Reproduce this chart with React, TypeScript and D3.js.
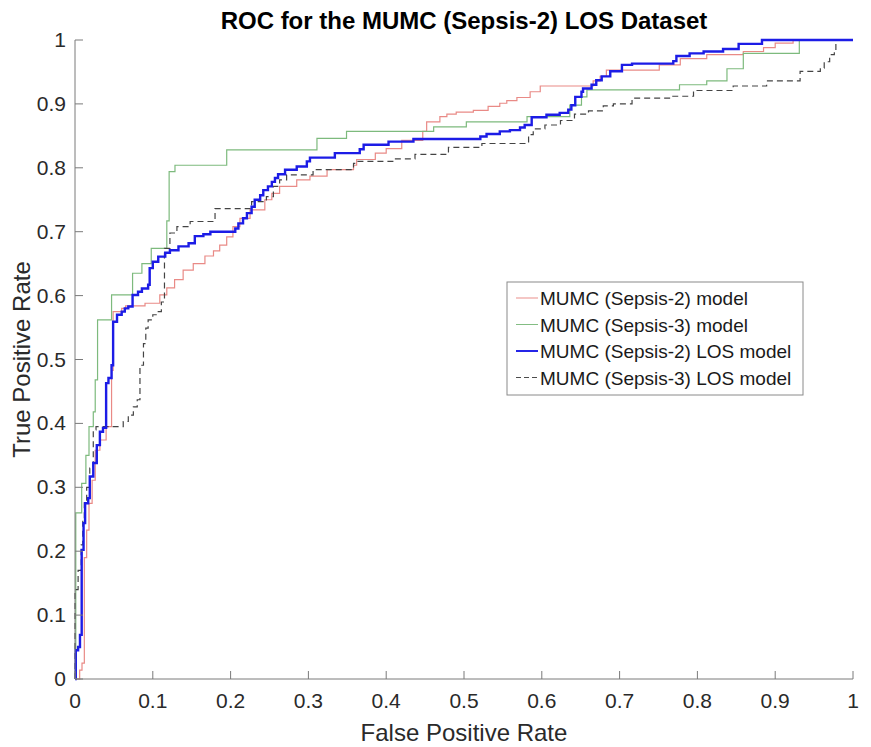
import React, { useEffect, useRef } from "react";
import * as d3 from "d3";

const TITLE = "ROC for the MUMC (Sepsis-2) LOS Dataset";
const X_LABEL = "False Positive Rate";
const Y_LABEL = "True Positive Rate";
const TICKS = [0, 0.1, 0.2, 0.3, 0.4, 0.5, 0.6, 0.7, 0.8, 0.9, 1];
const TICK_LABELS = ["0", "0.1", "0.2", "0.3", "0.4", "0.5", "0.6", "0.7", "0.8", "0.9", "1"];

const SERIES_NAMES = [
  "MUMC (Sepsis-2) model",
  "MUMC (Sepsis-3) model",
  "MUMC (Sepsis-2) LOS model",
  "MUMC (Sepsis-3) LOS model",
];

// MUMC (Sepsis-2) model
const s2Fpr = [0, .006, .009, .012, .015, .018, .022, .026, .032, .04, .047, .049, .06, .065, .09, .109, .118, .128, .139, .152, .167, .178, .186, .195, .203, .212, .225, .244, .253, .263, .285, .302, .324, .358, .362, .386, .40, .42, .447, .452, .469, .478, .49, .512, .531, .546, .555, .568, .585, .598, .666, .675, .683, .751, .778, .812, .859, .885, .90, .923, 1];
const s2Tpr = [0, .014, .025, .19, .233, .275, .311, .358, .374, .395, .483, .575, .58, .584, .588, .601, .612, .625, .64, .65, .662, .67, .679, .692, .708, .721, .734, .75, .76, .771, .781, .787, .797, .804, .813, .823, .83, .843, .857, .872, .88, .884, .887, .89, .896, .901, .905, .91, .919, .928, .936, .943, .953, .961, .971, .977, .982, .988, .995, 1, 1];

// MUMC (Sepsis-3) model
const s3Fpr = [0, .001, .0086, .014, .018, .0235, .026, .029, .047, .074, .086, .098, .118, .121, .1285, .195, .311, .349, .461, .503, .581, .636, .651, .658, .777, .812, .838, .859, .931, 1];
const s3Tpr = [0, .26, .306, .35, .395, .418, .468, .562, .601, .635, .65, .674, .717, .794, .804, .828, .846, .857, .864, .872, .88, .898, .911, .922, .93, .936, .955, .979, 1, 1];

// MUMC (Sepsis-2) LOS model
const s2LosFpr = [0, .001, .004, .0064, .0086, .011, .013, .017, .019, .0235, .028, .032, .036, .04, .043, .047, .049, .054, .06, .064, .0685, .074, .081, .086, .094, .096, .1, .107, .116, .122, .133, .146, .154, .165, .174, .206, .21, .216, .221, .227, .231, .238, .242, .248, .253, .257, .261, .27, .285, .298, .302, .334, .366, .371, .403, .435, .521, .529, .546, .559, .572, .578, .587, .606, .623, .634, .638, .643, .651, .653, .664, .670, .677, .688, .703, .716, .769, .773, .79, .808, .833, .853, .883, 1];
const s2LosTpr = [0, .045, .05, .069, .202, .244, .275, .283, .317, .338, .366, .387, .393, .463, .471, .491, .559, .57, .575, .58, .583, .601, .606, .611, .617, .643, .653, .661, .667, .671, .677, .682, .693, .696, .70, .705, .713, .721, .729, .739, .75, .757, .765, .771, .778, .784, .79, .797, .802, .81, .816, .823, .829, .836, .841, .845, .849, .853, .857, .859, .863, .867, .879, .883, .886, .891, .898, .911, .919, .924, .93, .937, .943, .951, .961, .963, .967, .975, .979, .982, .986, .994, 1, 1];

// MUMC (Sepsis-3) LOS model
const s3LosFpr = [0, 0, .004, .008, .01, .012, .015, .019, .0235, .027, .062, .0685, .075, .08, .0835, .088, .091, .094, .1, .107, .111, .115, .122, .131, .148, .18, .227, .246, .255, .263, .272, .306, .358, .362, .411, .437, .48, .523, .583, .589, .604, .624, .642, .66, .679, .692, .716, .765, .795, .846, .889, .932, .958, .963, .97, .976, .978, 1];
const s3LosTpr = [0, .14, .17, .21, .25, .28, .30, .33, .39, .395, .403, .413, .426, .437, .491, .525, .549, .562, .57, .575, .59, .674, .698, .708, .716, .736, .747, .755, .771, .781, .789, .797, .807, .81, .814, .821, .832, .838, .852, .861, .867, .874, .884, .889, .897, .90, .909, .912, .921, .928, .936, .951, .956, .966, .977, .982, 1, 1];

const COLORS = ["#e98a86", "#7dba7d", "#1c1ce6", "#444444"];
const WIDTHS = [1.2, 1.2, 2.4, 1.2];
const DASHES = [null, null, null, "6,4"];

const W = 871;
const H = 747;
const M = { left: 75, right: 853, top: 40, bottom: 679 };

export default function App() {
  const ref = useRef<SVGSVGElement>(null);

  useEffect(() => {
    const svg = d3.select(ref.current);
    svg.selectAll("*").remove();
    const font = "'Liberation Sans', Arial, Helvetica, sans-serif";

    const x = d3.scaleLinear().domain([0, 1]).range([M.left, M.right]);
    const y = d3.scaleLinear().domain([0, 1]).range([M.bottom, M.top]);

    svg.append("rect").attr("width", W).attr("height", H).attr("fill", "#fff");

    const series = [
      [s2Fpr, s2Tpr],
      [s3Fpr, s3Tpr],
      [s2LosFpr, s2LosTpr],
      [s3LosFpr, s3LosTpr],
    ];

    const line = d3
      .line<[number, number]>()
      .x((d) => x(d[0]))
      .y((d) => y(d[1]))
      .curve(d3.curveStepAfter);

    const drawOrder = [0, 1, 3, 2];
    drawOrder.forEach((i) => {
      const [fx, ty] = series[i];
      const pts = fx.map((v, k) => [v, ty[k]] as [number, number]);
      const p = svg
        .append("path")
        .attr("d", line(pts) as string)
        .attr("fill", "none")
        .attr("stroke", COLORS[i])
        .attr("stroke-width", WIDTHS[i]);
      if (DASHES[i]) p.attr("stroke-dasharray", DASHES[i] as string);
    });

    // axes
    const axisColor = "#7a7a7a";
    const g = svg.append("g");
    g.append("line")
      .attr("x1", M.left).attr("x2", M.right)
      .attr("y1", M.bottom).attr("y2", M.bottom)
      .attr("stroke", axisColor).attr("stroke-width", 1);
    g.append("line")
      .attr("x1", M.left).attr("x2", M.left)
      .attr("y1", M.top).attr("y2", M.bottom)
      .attr("stroke", axisColor).attr("stroke-width", 1);

    TICKS.forEach((t, i) => {
      g.append("line")
        .attr("x1", x(t)).attr("x2", x(t))
        .attr("y1", M.bottom).attr("y2", M.bottom - 8)
        .attr("stroke", axisColor);
      g.append("line")
        .attr("x1", M.left).attr("x2", M.left + 8)
        .attr("y1", y(t)).attr("y2", y(t))
        .attr("stroke", axisColor);
      g.append("text")
        .attr("x", x(t)).attr("y", M.bottom + 29)
        .attr("text-anchor", "middle")
        .attr("font-family", font).attr("font-size", 21)
        .attr("fill", "#2a2a2a")
        .text(TICK_LABELS[i]);
      g.append("text")
        .attr("x", M.left - 9).attr("y", y(t) + 7)
        .attr("text-anchor", "end")
        .attr("font-family", font).attr("font-size", 21)
        .attr("fill", "#2a2a2a")
        .text(TICK_LABELS[i]);
    });

    svg.append("text")
      .attr("x", (M.left + M.right) / 2).attr("y", 29)
      .attr("text-anchor", "middle")
      .attr("font-family", font).attr("font-size", 24).attr("font-weight", "bold")
      .attr("fill", "#000")
      .text(TITLE);

    svg.append("text")
      .attr("x", (M.left + M.right) / 2).attr("y", 741)
      .attr("text-anchor", "middle")
      .attr("font-family", font).attr("font-size", 24)
      .attr("fill", "#2a2a2a")
      .text(X_LABEL);

    svg.append("text")
      .attr("transform", `translate(30,${(M.top + M.bottom) / 2}) rotate(-90)`)
      .attr("text-anchor", "middle")
      .attr("font-family", font).attr("font-size", 24)
      .attr("fill", "#2a2a2a")
      .text(Y_LABEL);

    // legend
    const lg = svg.append("g");
    lg.append("rect")
      .attr("x", 507).attr("y", 282).attr("width", 296).attr("height", 113)
      .attr("fill", "#fff").attr("stroke", "#8a8a8a").attr("stroke-width", 1);
    SERIES_NAMES.forEach((name, i) => {
      const cy = 298 + i * 26.5;
      const l = lg.append("line")
        .attr("x1", 516).attr("x2", 538)
        .attr("y1", cy).attr("y2", cy)
        .attr("stroke", COLORS[i]).attr("stroke-width", WIDTHS[i] * 0.8);
      if (DASHES[i]) l.attr("stroke-dasharray", "5,3");
      lg.append("text")
        .attr("x", 540).attr("y", cy + 7)
        .attr("font-family", font).attr("font-size", 19)
        .attr("fill", "#1a1a1a")
        .text(name);
    });
  }, []);

  return (
    <svg
      ref={ref}
      width={W}
      height={H}
      style={{ position: "absolute", left: 0, top: 0 }}
    />
  );
}
